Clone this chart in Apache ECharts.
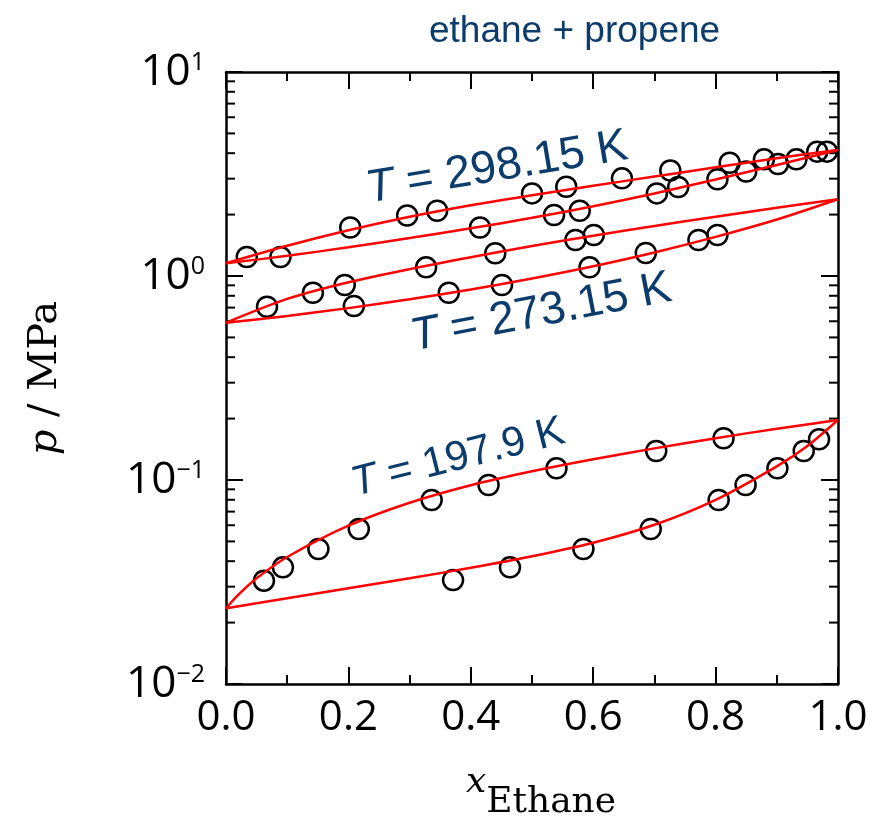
<!DOCTYPE html>
<html><head><meta charset="utf-8">
<script src="https://cdn.jsdelivr.net/npm/echarts@6/dist/echarts.min.js"></script>
<style>html,body{margin:0;padding:0;background:#fff}#c{width:877px;height:818px}</style>
</head><body><div id="c"></div>
<script>
// ---- data ----
const titleText = 'ethane + propene';
const xTickLabels = ['0.0', '0.2', '0.4', '0.6', '0.8', '1.0'];
const yTickExps = ['1', '0', '\u22121', '\u22122'];

// experimental points, T = 298.15 K
const x298Bub = [0.034, 0.203, 0.296, 0.345, 0.500, 0.556, 0.647, 0.726, 0.823, 0.879, 0.966, 0.982];
const p298Bub = [1.24, 1.73, 1.98, 2.09, 2.54, 2.74, 3.01, 3.29, 3.59, 3.73, 4.07, 4.07];
const x298Dew = [0.089, 0.415, 0.536, 0.578, 0.704, 0.739, 0.803, 0.850, 0.902, 0.932];
const p298Dew = [1.24, 1.73, 1.99, 2.09, 2.54, 2.73, 2.98, 3.25, 3.54, 3.73];
// T = 273.15 K
const x273Bub = [0.067, 0.142, 0.194, 0.327, 0.440, 0.571, 0.601];
const p273Bub = [0.707, 0.828, 0.903, 1.103, 1.292, 1.502, 1.589];
const x273Dew = [0.209, 0.364, 0.451, 0.594, 0.686, 0.772, 0.803];
const p273Dew = [0.713, 0.828, 0.903, 1.103, 1.296, 1.502, 1.589];
// T = 197.9 K
const x198Bub = [0.062, 0.093, 0.151, 0.217, 0.336, 0.429, 0.540, 0.703, 0.813];
const p198Bub = [0.0321, 0.0373, 0.0459, 0.0575, 0.0798, 0.0945, 0.1141, 0.1388, 0.1601];
const x198Dew = [0.371, 0.464, 0.584, 0.694, 0.805, 0.849, 0.901, 0.944, 0.969];
const p198Dew = [0.0323, 0.0373, 0.0459, 0.0575, 0.0798, 0.0945, 0.1141, 0.1388, 0.1583];

// model curves
const xLine298 = [0, 0.1, 0.2, 0.3, 0.4, 0.5, 0.6, 0.7, 0.8, 0.9, 1.0];
const pLine298Up = [1.154, 1.406, 1.675, 1.951, 2.222, 2.487, 2.768, 3.074, 3.410, 3.781, 4.146];
const pLine298Low = [1.154, 1.256, 1.383, 1.534, 1.713, 1.929, 2.197, 2.538, 2.972, 3.500, 4.146];
const xLine273 = [0, 0.1, 0.2, 0.3, 0.4, 0.5, 0.6, 0.7, 0.8, 0.9, 1.0];
const pLine273Up = [0.590, 0.772, 0.931, 1.081, 1.236, 1.402, 1.576, 1.760, 1.953, 2.158, 2.379];
const pLine273Low = [0.590, 0.6375, 0.6959, 0.7688, 0.8587, 0.9721, 1.117, 1.305, 1.555, 1.892, 2.379];
const xLine198Up = [0, 0.02, 0.05, 0.1, 0.2, 0.3, 0.4, 0.5, 0.6, 0.7, 0.8, 0.9, 1.0];
const pLine198Up = [0.0235, 0.02734, 0.03297, 0.04194, 0.0597, 0.07737, 0.0943, 0.1104, 0.1265, 0.1429, 0.1603, 0.1784, 0.1968];
const xLine198Low = [0, 0.05, 0.1, 0.2, 0.3, 0.4, 0.5, 0.6, 0.7, 0.8, 0.9, 0.95, 1.0];
const pLine198Low = [0.0235, 0.02486, 0.0263, 0.02944, 0.03297, 0.03713, 0.04227, 0.04923, 0.06031, 0.07994, 0.1167, 0.1468, 0.1968];

const labels = [
  {T: '298.15 K', at: [497, 168], deg: 9.5, size: 46},
  {T: '273.15 K', at: [541, 313], deg: 10.9, size: 46},
  {T: '197.9 K', at: [458, 458], deg: 14.2, size: 42}
];

// ---- chart ----
const NAVY = '#0c3c6c';
const pairs = (xs, ys) => xs.map((x, i) => [x, ys[i]]);
const chart = echarts.init(document.getElementById('c'));

function lineSeries(xs, ys) {
  return {type: 'line', data: pairs(xs, ys), showSymbol: false, symbol: 'none',
    smooth: 0.3, z: 3,
    lineStyle: {color: '#ff0000', width: 2.5}};
}
function pointSeries(xs, ys) {
  return {type: 'scatter', data: pairs(xs, ys), symbol: 'circle', symbolSize: 20, z: 2,
    itemStyle: {color: 'rgba(0,0,0,0)', borderColor: '#000', borderWidth: 2.5, opacity: 1}};
}

const axLine = {show: true, onZero: false, lineStyle: {color: '#000', width: 2.5}};
const tickStyle = {color: '#000', width: 2};

function xAxisDef(pos, showLabel) {
  return {
    type: 'value', min: 0, max: 1, interval: 0.2, position: pos,
    axisLine: axLine,
    axisTick: {show: true, inside: true, length: 17, lineStyle: tickStyle},
    minorTick: {show: true, splitNumber: 2, length: 9, lineStyle: tickStyle},
    splitLine: {show: false},
    axisLabel: {show: showLabel, margin: 13, color: '#000', fontFamily: 'Open Sans', fontSize: 42,
      formatter: v => xTickLabels[Math.round(v / 0.2)]},
    name: showLabel ? '{i|x}{s|Ethane}' : '',
    nameLocation: 'middle', nameGap: 81,
    nameTextStyle: {padding: [0, 0, 0, 18], rich: {
      i: {fontFamily: 'DejaVu Serif', fontStyle: 'italic', fontSize: 36, color: '#000', padding: [0, 0, 20, 0], verticalAlign: 'bottom'},
      s: {fontFamily: 'DejaVu Serif', fontSize: 36, color: '#000', verticalAlign: 'bottom'}
    }}
  };
}
function yAxisDef(pos, showLabel) {
  return {
    type: 'log', logBase: 10, min: 0.01, max: 10, position: pos,
    axisLine: axLine,
    axisTick: {show: true, inside: true, length: 17, lineStyle: tickStyle},
    minorTick: {show: false},
    splitLine: {show: false},
    axisLabel: {show: showLabel, margin: 21, color: '#000',
      formatter: v => '{b|10}{s|' + yTickExps[1 - Math.round(Math.log10(v))] + '}',
      rich: {
        b: {fontFamily: 'Open Sans', fontSize: 44, color: '#000', verticalAlign: 'bottom'},
        s: {fontFamily: 'Open Sans', fontSize: 25, color: '#000', verticalAlign: 'top'}
      }},
    name: showLabel ? '{i|p} / MPa' : '',
    nameLocation: 'middle', nameRotate: 90, nameGap: 160,
    nameTextStyle: {fontFamily: 'DejaVu Serif', fontSize: 40, color: '#000',
      rich: {i: {fontFamily: 'DejaVu Serif', fontStyle: 'italic', fontSize: 40, color: '#000'}}}
  };
}

chart.setOption({
  animation: false,
  backgroundColor: '#fff',
  title: {text: titleText, left: 424, top: 8,
    textStyle: {fontFamily: 'Liberation Sans', fontSize: 37, fontWeight: 'normal', color: NAVY}},
  grid: {left: 226, right: 39, top: 72, bottom: 134, containLabel: false, outerBoundsMode: 'none'},
  xAxis: [xAxisDef('bottom', true), xAxisDef('top', false)],
  yAxis: [yAxisDef('left', true), yAxisDef('right', false)],
  series: [
    pointSeries(x298Bub, p298Bub), pointSeries(x298Dew, p298Dew),
    pointSeries(x273Bub, p273Bub), pointSeries(x273Dew, p273Dew),
    pointSeries(x198Bub, p198Bub), pointSeries(x198Dew, p198Dew),
    lineSeries(xLine298, pLine298Up), lineSeries(xLine298, pLine298Low),
    lineSeries(xLine273, pLine273Up), lineSeries(xLine273, pLine273Low),
    lineSeries(xLine198Up, pLine198Up), lineSeries(xLine198Low, pLine198Low)
  ]
});

// log-axis minor ticks (2..9 x 10^n) on left and right frame, plus the rotated labels
const els = [];
const xl = chart.convertToPixel({xAxisIndex: 0}, 0);
const xr = chart.convertToPixel({xAxisIndex: 0}, 1);
[0.01, 0.1, 1].forEach(dec => {
  for (let m = 2; m <= 9; m++) {
    const y = chart.convertToPixel({yAxisIndex: 0}, m * dec);
    els.push({type: 'line', silent: true, shape: {x1: xl, y1: y, x2: xl + 9, y2: y}, style: {stroke: '#000', lineWidth: 2}});
    els.push({type: 'line', silent: true, shape: {x1: xr - 9, y1: y, x2: xr, y2: y}, style: {stroke: '#000', lineWidth: 2}});
  }
});
labels.forEach(l => {
  els.push({type: 'text', x: l.at[0], y: l.at[1], rotation: l.deg * Math.PI / 180, z: 10,
    style: {text: '{i|T} = ' + l.T, align: 'center', verticalAlign: 'middle',
      fontFamily: 'Liberation Sans', fontSize: l.size, fill: NAVY,
      rich: {i: {fontFamily: 'Liberation Sans', fontStyle: 'italic', fontSize: l.size, fill: NAVY}}}});
});
chart.setOption({graphic: {elements: els}});
</script>
</body></html>
